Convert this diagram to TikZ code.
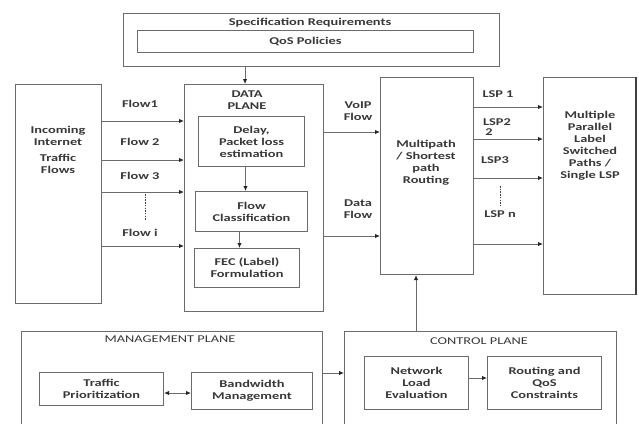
\documentclass[tikz,border=0pt]{standalone}
\usepackage{fontspec}
\setmainfont{Carlito}[FakeStretch=1.38]
\usetikzlibrary{arrows.meta}
\definecolor{edge}{gray}{0.42}
\definecolor{ink}{gray}{0.22}
\tikzset{
  box/.style={draw=edge, line width=1pt, rectangle, inner sep=0pt, anchor=north west},
  lbl/.style={text=ink, font=\fontsize{10.4}{12}\selectfont\bfseries, align=center, inner sep=0pt},
  ttl/.style={text=ink, font=\fontsize{10.4}{12}\selectfont, align=center, inner sep=0pt},
  arr/.style={draw=edge, line width=1pt, -{Latex[length=5pt,width=4.5pt,color=black!85]}},
  dbl/.style={draw=edge, line width=1pt, {Latex[length=5pt,width=4.5pt,color=black!85]}-{Latex[length=5pt,width=4.5pt,color=black!85]}},
  dots/.style={draw=black!75, line width=0.9pt, dash pattern=on 1.5pt off 1.2pt}
}
\begin{document}
\begin{tikzpicture}[x=1pt, y=-1pt]
\path[use as bounding box] (0,0) rectangle (639,423);
\clip (0,0) rectangle (639,423);
\fill[white] (0,0) rectangle (639,423);

% specification requirements
\node[box, minimum width=376pt, minimum height=53pt] (spec) at (123,13) {};
\node[lbl] (spectitle) at (310,23) {Specification Requirements};
\node[box, lbl, minimum width=336pt, minimum height=22pt] (qos) at (137,30) {QoS Policies};

% incoming traffic
\node[box, minimum width=86pt, minimum height=219pt] (inc) at (15,84) {};
\node[lbl, text width=80pt] (inctext) at (58,150) {Incoming\\Internet\\[4pt]Traffic\\Flows};

% data plane
\node[box, minimum width=139pt, minimum height=227pt] (dp) at (184,84) {};
\node[lbl] (dptitle) at (247,100) {DATA\\PLANE};
\node[box, lbl, minimum width=106pt, minimum height=50pt] (delay) at (198,116) {Delay,\\Packet loss\\estimation};
\node[box, lbl, minimum width=112pt, minimum height=40pt] (fc) at (195,191) {Flow\\Classification};
\node[box, lbl, minimum width=105pt, minimum height=39pt] (fec) at (194,248) {FEC (Label)\\Formulation};
\draw[arr] ([xshift=-6pt]delay.south) -- ([xshift=-6pt]delay.south |- fc.north);
\draw[arr] ([xshift=-12pt]fc.south) -- ([xshift=-12pt]fc.south |- fec.north);
\draw[arr] (spec.south -| 245,0) -- (dp.north -| 245,0);

% flows into the data plane
\draw[arr] (inc.east |- 0,121) -- (dp.west |- 0,121);
\draw[arr] (inc.east |- 0,160) -- (dp.west |- 0,160);
\draw[arr] (inc.east |- 0,192) -- (dp.west |- 0,192);
\draw[arr] (inc.east |- 0,246) -- (dp.west |- 0,246);
\node[lbl] (f1) at (140,104) {Flow1};
\node[lbl] (f2) at (140,142) {Flow 2};
\node[lbl] (f3) at (140,176) {Flow 3};
\node[lbl] (fi) at (140,233) {Flow i};
\draw[dots] (145,194) -- (145,220);

% routing
\node[box, minimum width=93pt, minimum height=197pt] (mp) at (380,77) {};
\node[lbl] (mptext) at (426,163) {Multipath\\/ Shortest\\path\\Routing};
\draw[arr] (dp.east |- 0,132) -- (mp.west |- 0,132);
\draw[arr] (dp.east |- 0,236) -- (mp.west |- 0,236);
\node[lbl] (voip) at (358,111) {VoIP\\Flow};
\node[lbl] (dflow) at (358,209) {Data\\Flow};

% label switched paths
\node[box, minimum width=92pt, minimum height=217pt] (lsp) at (543,77) {};
\draw[black!75, line width=2pt] (lsp.north east) -- (lsp.south east);
\node[lbl] (lsptext) at (590,146) {Multiple\\Parallel\\Label\\Switched\\Paths /\\Single LSP};
\draw[arr] (mp.east |- 0,107) -- (lsp.west |- 0,107);
\draw[arr] (mp.east |- 0,139) -- (lsp.west |- 0,139);
\draw[arr] (mp.east |- 0,178) -- (lsp.west |- 0,178);
\draw[arr] (mp.east |- 0,244) -- (lsp.west |- 0,244);
\node[lbl] (l1) at (498,94) {LSP 1};
\node[lbl] (l2) at (497,122) {LSP2};
\node[lbl] (l2b) at (489,132) {2};
\node[lbl] (l3) at (495,160) {LSP3};
\node[lbl] (ln) at (500,214) {LSP n};
\draw[dots] (500,186) -- (500,205);

% management plane
\node[box, minimum width=301pt, minimum height=110pt] (mgmt) at (21,331) {};
\node[ttl] (mgmttitle) at (170,339) {MANAGEMENT PLANE};
\node[box, lbl, minimum width=124pt, minimum height=33pt] (tp) at (39,372) {Traffic\\Prioritization};
\node[box, lbl, minimum width=121pt, minimum height=37pt] (bw) at (191,372) {Bandwidth\\Management};
\draw[dbl] (tp.east |- 0,393) -- (bw.west |- 0,393);

% control plane
\node[box, minimum width=272pt, minimum height=110pt] (ctrl) at (344,331) {};
\node[ttl] (ctrltitle) at (479,341) {CONTROL PLANE};
\node[box, lbl, minimum width=104pt, minimum height=53pt] (nle) at (364,356) {Network\\Load\\Evaluation};
\node[box, lbl, minimum width=114pt, minimum height=53pt] (rqc) at (487,356) {Routing and\\QoS\\Constraints};
\draw[arr] (nle.east |- 0,378) -- (rqc.west |- 0,378);
\draw[arr] (mgmt.east |- 0,373) -- (ctrl.west |- 0,373);
\draw[arr] (ctrl.north -| 416,0) -- (mp.south -| 416,0);
\end{tikzpicture}
\end{document}
